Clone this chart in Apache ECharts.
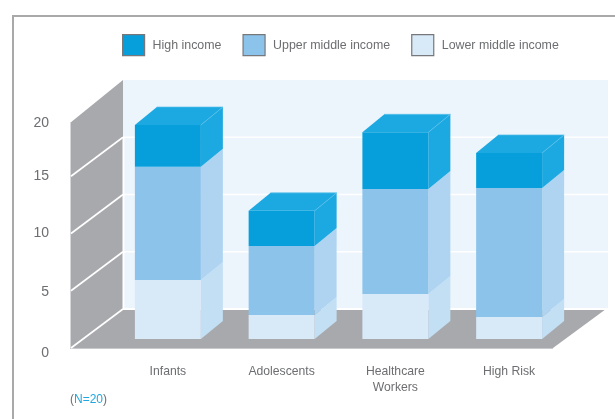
<!DOCTYPE html>
<html><head><meta charset="utf-8">
<style>html,body{margin:0;padding:0;background:#fff}#c{width:615px;height:419px}</style>
<script src="https://cdn.jsdelivr.net/npm/echarts@6/dist/echarts.min.js"></script>
</head><body><div id="c"></div>
<script>
const categories = ['Infants','Adolescents','Healthcare\nWorkers','High Risk'];
const lowerMiddle = [5.15,2.1,3.93,1.92];
const upperMiddle = [9.9,6.03,9.17,11.27];
const highIncome = [3.64,3.06,4.95,3.06];
const ticks = [0,5,10,15,20];
const FONT = '"Liberation Sans",sans-serif';
const TXT = '#6d6e71';
const chart = echarts.init(document.getElementById('c'),null,{renderer:'canvas'});

const GROUND_LIFT = 9, BAR_DX = 22, BAR_DY = 18, WALL_DX = 53, WALL_DY = 39;

function bgItem(params, api){
  const frontL = 70, frontR = 553;
  const y = v => api.coord([0,v])[1];
  const kids = [];
  const poly = (pts,fill)=>kids.push({type:'polygon',shape:{points:pts},style:{fill},silent:true});
  const line = (a,b,c,w)=>kids.push({type:'line',shape:{x1:a[0],y1:a[1],x2:b[0],y2:b[1]},style:{stroke:c,lineWidth:w,fill:null},silent:true});
  const backL = frontL+WALL_DX, backR = frontR+WALL_DX;
  const backTop = y(20)-WALL_DY, backBase = y(0)-WALL_DY;
  poly([[backL,backTop],[backR+2,backTop],[backR+2,backBase],[backL,backBase]],'#ecf4fc');
  poly([[frontL,y(19.65)],[backL,backTop],[backL,backBase],[frontL,y(0)]],'#a8a9ad');
  poly([[frontL,y(0)],[frontR,y(0)],[backR,backBase],[backL,backBase]],'#a8a9ad');
  line([frontL,y(0)+0.5],[frontR,y(0)+0.5],'#c9cacd',1.2);
  line([frontL+0.5,y(19.65)],[frontL+0.5,y(0)],'#d5d6d9',1);
  line([backL+0.5,y(15)-WALL_DY],[backL+0.5,backBase],'#ffffff',2);
  ticks.forEach(t=>{
    if(t===20) return;
    const by = y(t)-WALL_DY;
    line([frontL+1,y(t)],[backL,by],'#ffffff',1.6);
    line([backL,by],[backR+2,by],'#ffffff',t===0?2:1.6);
  });
  return {type:'group',children:kids};
}
function barItem(palette, base, vals, top){
  return function(params, api){
    const i = api.value(0);
    const b = base(i), v = vals[i];
    const c0 = api.coord([i,b]), c1 = api.coord([i,b+v]);
    const w = api.size([1,0])[0]*0.58;
    const x0 = c0[0]-w/2, x1 = c0[0]+w/2;
    const y0 = c0[1]-GROUND_LIFT, y1 = c1[1]-GROUND_LIFT;
    const kids = [
      {type:'polygon',shape:{points:[[x1,y0],[x1+BAR_DX,y0-BAR_DY],[x1+BAR_DX,y1-BAR_DY],[x1,y1]]},style:{fill:palette.side}},
      {type:'rect',shape:{x:x0,y:y1,width:w,height:y0-y1},style:{fill:palette.front}}
    ];
    if(top){
      kids.push({type:'polygon',shape:{points:[[x0,y1],[x0+BAR_DX,y1-BAR_DY],[x1+BAR_DX,y1-BAR_DY],[x1,y1]]},style:{fill:palette.side}});
      kids.push({type:'line',shape:{x1:x1,y1:y1,x2:x1+BAR_DX,y2:y1-BAR_DY},style:{stroke:'#5cc1ea',lineWidth:0.7,fill:null}});
      kids.push({type:'line',shape:{x1:x0+BAR_DX,y1:y1-BAR_DY,x2:x1+BAR_DX,y2:y1-BAR_DY},style:{stroke:'#5cc1ea',lineWidth:0.7,fill:null}});
    }
    return {type:'group',children:kids};
  };
}
const idx = categories.map((_,i)=>[i]);
const palHigh = {front:'#069fdc',side:'#1ca8e0'};
const palUpper = {front:'#8cc3ea',side:'#aed4f1'};
const palLower = {front:'#d8e9f8',side:'#c3dff4'};
const yLabel = (s,b) => ({fontFamily:FONT,fontSize:14,color:TXT,padding:[s,0,b,0]});

chart.setOption({
  animation:false,
  backgroundColor:'#fff',
  grid:{left:111,width:455,top:119,height:229,containLabel:false},
  legend:{
    left:117,top:29,itemWidth:22,itemHeight:21,itemGap:21,icon:'rect',
    selectedMode:false,
    textStyle:{fontFamily:FONT,fontSize:12.4,color:TXT,padding:[0,0,0,3]},
    itemStyle:{borderColor:'#77787b',borderWidth:1.2},
    data:['High income','Upper middle income','Lower middle income']
  },
  xAxis:{type:'category',data:categories,
    axisLine:{show:false},axisTick:{show:false},splitLine:{show:false},
    axisLabel:{fontFamily:FONT,fontSize:12.2,color:TXT,margin:16,lineHeight:16,interval:0}},
  yAxis:{type:'value',min:0,max:20,interval:5,
    axisLine:{show:false},axisTick:{show:false},splitLine:{show:false},
    axisLabel:{margin:62,formatter:v=>'{t'+v+'|'+v+'}',
      rich:{t0:yLabel(11,0),t5:yLabel(3,0),t10:yLabel(0,0),t15:yLabel(0,1),t20:yLabel(9,0)}}},
  graphic:[
    {type:'polyline',shape:{points:[[13,419],[13,16],[615,16]]},style:{stroke:'#a9a9a9',lineWidth:2,fill:null},z:0},
    {type:'text',left:70,top:394,style:{
      rich:{p:{fill:TXT,fontFamily:FONT,fontSize:12},n:{fill:'#1ea7e0',fontFamily:FONT,fontSize:12}},
      text:'{p|(}{n|N=20}{p|)}'}}
  ],
  series:[
    {type:'custom',name:'_bg',silent:true,z:1,clip:false,renderItem:bgItem,data:[[0]],encode:{x:0}},
    {type:'custom',name:'Lower middle income',z:2,clip:false,itemStyle:{color:palLower.front},data:idx,encode:{x:0},
      renderItem:barItem(palLower,()=>0,lowerMiddle,false)},
    {type:'custom',name:'Upper middle income',z:3,clip:false,itemStyle:{color:palUpper.front},data:idx,encode:{x:0},
      renderItem:barItem(palUpper,i=>lowerMiddle[i],upperMiddle,false)},
    {type:'custom',name:'High income',z:4,clip:false,itemStyle:{color:palHigh.front},data:idx,encode:{x:0},
      renderItem:barItem(palHigh,i=>lowerMiddle[i]+upperMiddle[i],highIncome,true)}
  ]
});
</script></body></html>
